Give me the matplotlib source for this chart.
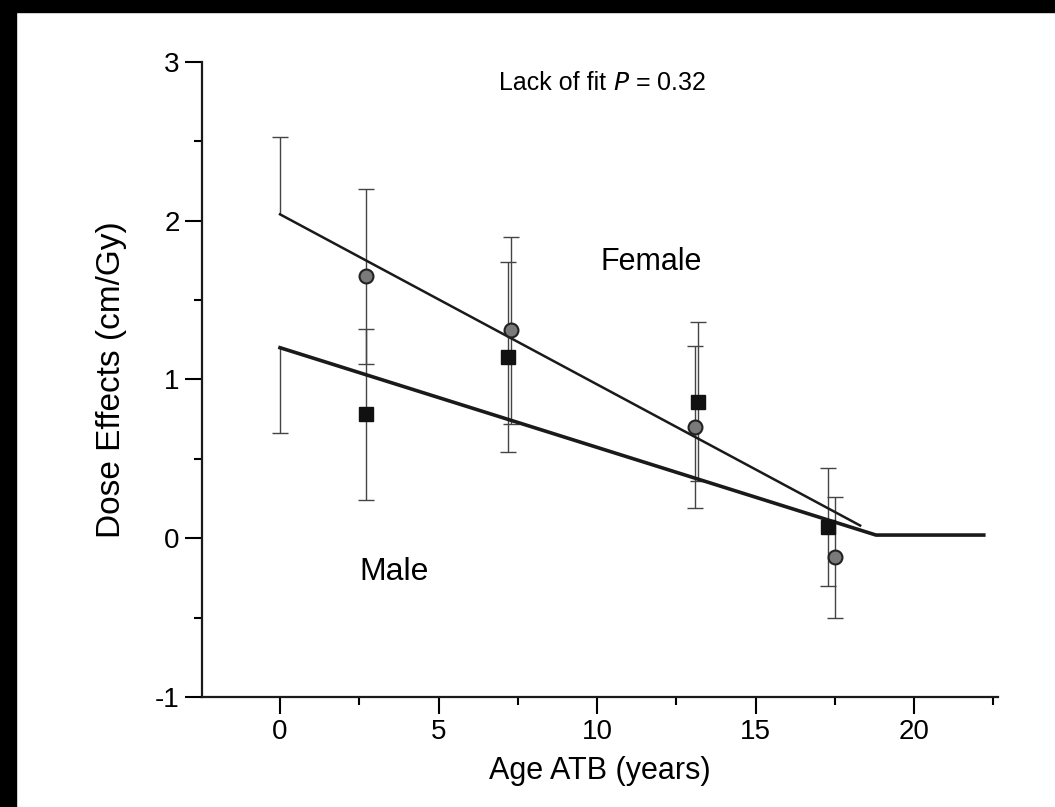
import matplotlib
matplotlib.use("Agg")
import matplotlib.pyplot as plt
from matplotlib.patches import Rectangle
from matplotlib.ticker import MultipleLocator

plt.rcParams['font.family'] = ['Liberation Sans', 'DejaVu Sans']
plt.rcParams['axes.unicode_minus'] = False

# Data
female_age = [2.7, 7.3, 13.1, 17.5]
female_dose = [1.65, 1.31, 0.70, -0.12]
female_err = [0.55, 0.59, 0.51, 0.38]

male_age = [2.7, 7.2, 13.2, 17.3]
male_dose = [0.78, 1.14, 0.86, 0.07]
male_err = [0.54, 0.60, 0.50, 0.37]

# fitted lines (piecewise)
female_fit_x = [0, 18.3]
female_fit_y = [2.04, 0.08]
male_fit_x = [0, 18.8, 22.2]
male_fit_y = [1.20, 0.02, 0.02]

# one-sided error at intercept
female_int_err = 0.49
male_int_err = 0.54

fig = plt.figure(figsize=(10.55, 8.07), dpi=100)
ax = fig.add_axes([0.1915, 0.1363, 0.7545, 0.787])

eb_style = dict(fmt='none', ecolor='#444444', elinewidth=1, capsize=6, capthick=1)

# error bars
ax.errorbar(female_age, female_dose, yerr=female_err, **eb_style)
ax.errorbar(male_age, male_dose, yerr=male_err, **eb_style)

# intercept error bars, only one side has a cap
eb = ax.errorbar([female_fit_x[0]], [female_fit_y[0]], yerr=[[0], [female_int_err]], **eb_style)
eb[1][0].set_visible(False)
eb = ax.errorbar([male_fit_x[0]], [male_fit_y[0]], yerr=[[male_int_err], [0]], **eb_style)
eb[1][1].set_visible(False)

# fit lines
ax.plot(female_fit_x, female_fit_y, color='#1a1a1a', lw=1.8)
ax.plot(male_fit_x, male_fit_y, color='#1a1a1a', lw=2.6)

# markers
ax.plot(female_age, female_dose, 'o', ms=10, mfc='#7a7a7a', mec='#222222', mew=1.5)
ax.plot(male_age, male_dose, 's', ms=9.5, mfc='#111111', mec='#111111')

ax.text(10.5, 2.87, "Lack of fit ", fontsize=18, ha='right', va='center')
ax.text(10.5, 2.87, "$\\mathit{P}$ = 0.32", fontsize=18, ha='left', va='center',
        math_fontfamily='dejavusans')
ax.text(11.7, 1.74, "Female", fontsize=22, ha='center', va='center')
ax.text(3.6, -0.21, "Male", fontsize=23, ha='center', va='center')

ax.set_xlim(-2.46, 22.65)
ax.set_ylim(-1, 3)
ax.xaxis.set_major_locator(MultipleLocator(5))
ax.xaxis.set_minor_locator(MultipleLocator(2.5))
ax.yaxis.set_major_locator(MultipleLocator(1))
ax.yaxis.set_minor_locator(MultipleLocator(0.5))

for s in ['top', 'right']:
    ax.spines[s].set_visible(False)
for s in ['left', 'bottom']:
    ax.spines[s].set_linewidth(1.6)
    ax.spines[s].set_color('#1a1a1a')

ax.tick_params(which='major', direction='out', length=12, width=1.5, labelsize=20, pad=4)
ax.tick_params(which='minor', direction='out', length=6, width=1.5)
ax.set_xticks([0, 5, 10, 15, 20])
ax.set_xlabel("Age ATB (years)", fontsize=22, labelpad=8)
ax.set_ylabel("Dose Effects (cm/Gy)", fontsize=24, labelpad=20)

# black scan border at top and left
fig.patches.append(Rectangle((0, 1 - 12 / 807), 1, 12 / 807, transform=fig.transFigure,
                             color='black', zorder=10))
fig.patches.append(Rectangle((0, 0), 16 / 1055, 1, transform=fig.transFigure,
                             color='black', zorder=10))

fig.savefig("out.png", dpi=100)
